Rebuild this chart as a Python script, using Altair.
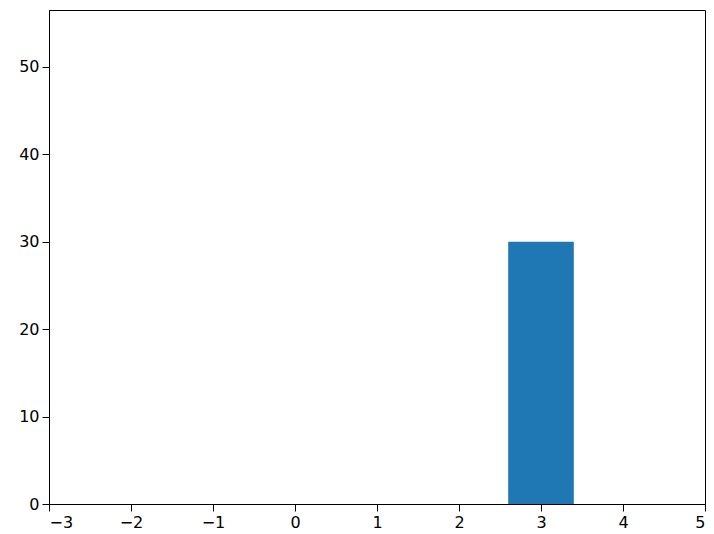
import altair as alt
import pandas as pd

x_vals = [3]
heights = [30]
bar_width = 0.8
x_ticks = [-3, -2, -1, 0, 1, 2, 3, 4, 5]
y_ticks = [0, 10, 20, 30, 40, 50]

df = pd.DataFrame({"x": x_vals, "h": heights})

chart = (
    alt.Chart(df)
    .transform_calculate(x0=f"datum.x - {bar_width/2}", x1=f"datum.x + {bar_width/2}")
    .mark_rect(color="#1f77b4")
    .encode(
        x=alt.X("x0:Q", scale=alt.Scale(domain=[-3, 5], nice=False, zero=False),
                axis=alt.Axis(values=x_ticks, title=None, grid=False, format="d")),
        x2="x1:Q",
        y=alt.Y("h:Q", scale=alt.Scale(domain=[0, 56.5], nice=False),
                axis=alt.Axis(values=y_ticks, title=None, grid=False)),
        y2=alt.datum(0),
    )
    .properties(width=656, height=494, autosize=alt.AutoSizeParams(type="none"),
                padding={"left": 41, "top": 2, "right": 1, "bottom": 30})
    .configure_view(stroke="black", strokeWidth=1)
    .configure_axis(
        domainColor="black", tickColor="black", labelColor="black",
        labelFont="DejaVu Sans", labelFontSize=16, tickSize=7, labelPadding=3,
        domainWidth=1, tickWidth=1,
    )
)

chart.save("out.html", embed_options={"renderer": "svg", "actions": False})
